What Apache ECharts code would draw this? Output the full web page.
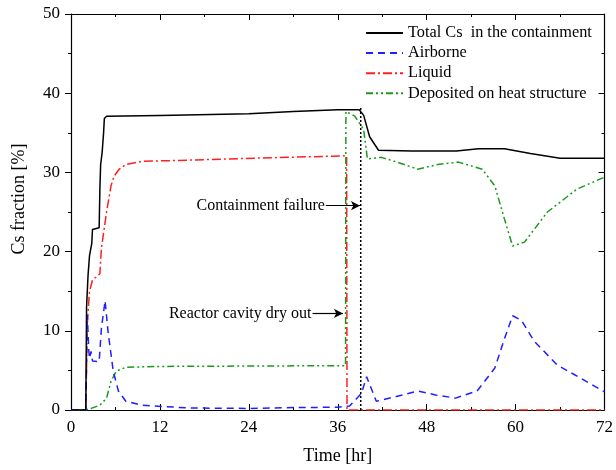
<!DOCTYPE html>
<html><head><meta charset="utf-8">
<script src="https://cdn.jsdelivr.net/npm/echarts@6/dist/echarts.min.js"></script>
<style>html,body{margin:0;padding:0;background:#fff}#c{width:616px;height:470px}</style>
</head><body><div id="c"></div>
<script>
const xTicks = [0, 12, 24, 36, 48, 60, 72];
const yTicks = [0, 10, 20, 30, 40, 50];
const seriesNames = ['Total Cs  in the containment', 'Airborne', 'Liquid', 'Deposited on heat structure'];
const totalCs = [[0,0],[2.0,0],[2.1,13],[2.3,17],[2.5,19.5],[2.8,21],[2.9,22.8],[3.8,23],[3.9,28],[4.0,31],[4.2,32.5],[4.4,35],[4.5,36.8],[4.8,37.1],[12,37.2],[24,37.4],[30,37.7],[36,37.9],[38.9,37.9],[39.5,37.2],[40.3,34.5],[41.5,32.8],[46,32.7],[52,32.7],[55,33.0],[58.5,33.0],[62,32.4],[66,31.8],[72,31.8]];
const airborne = [[0,0],[2.0,0],[2.2,12.0],[2.4,7.5],[2.5,6.5],[2.7,7.4],[2.9,6.2],[3.8,6.1],[4.1,10.3],[4.6,13.8],[5.0,9.9],[5.7,4.9],[6.4,2.4],[7.4,1.1],[9.6,0.6],[16,0.25],[24,0.2],[30,0.3],[36,0.35],[37.6,0.5],[39.2,2.1],[39.9,4.2],[41.2,1.1],[43.9,1.7],[46.8,2.4],[49.2,1.9],[51.9,1.5],[54.8,2.4],[57.2,5.3],[58.5,9.0],[59.6,11.9],[60.8,11.3],[62.5,8.7],[65.6,5.7],[68.8,4.0],[72,2.3]];
const liquid = [[0,0],[2.0,0],[2.2,10.9],[2.5,15],[2.9,16.4],[3.9,17.2],[4.1,20.4],[4.8,25],[5.4,28.3],[5.8,29.5],[6.5,30.4],[7.4,31.0],[9.6,31.4],[14,31.5],[25,31.8],[37.2,32.1],[37.25,0],[72,0]];
const deposited = [[0,0],[2.0,0],[3.0,0.3],[3.9,0.6],[4.8,1.5],[5.4,3.6],[6.1,4.9],[7.4,5.4],[11.8,5.5],[37.05,5.6],[37.1,37.7],[38.3,37.1],[39.5,35.4],[40.0,31.7],[41.9,31.9],[44,31.3],[46.8,30.4],[49.5,31.0],[52.3,31.3],[55.5,30.4],[57.2,28.3],[58.5,24.1],[59.6,20.7],[61.2,21.2],[64.3,25.0],[68.3,27.9],[72,29.4]];
const failureTime = 39.1;
const failureLine = [[failureTime,0],[failureTime,38.2]];
const failureArrow = {text:'Containment failure', y:25.8, from:34.4, to:39.0};
const dryoutArrow = {text:'Reactor cavity dry out', y:12.2, from:32.6, to:36.7};

const serif = 'Liberation Serif';
const chart = echarts.init(document.getElementById('c'));
function arrowLine(a){
  return {
    silent:true, symbol:['none','arrow'], symbolSize:[7,9],
    lineStyle:{color:'#000', type:'solid', width:1.2},
    label:{show:true, position:'start', formatter:a.text, color:'#000', fontFamily:serif, fontSize:16, distance:1},
    data:[[{coord:[a.from,a.y]},{coord:[a.to,a.y]}]]
  };
}
function axisCommon(inside){
  return {
    axisLine:{show:true, onZero:false, lineStyle:{color:'#000', width:1.2}},
    axisTick:{show:true, inside:inside, length:6, lineStyle:{color:'#000'}},
    minorTick:{show:true, splitNumber:2, length:3, lineStyle:{color:'#000'}},
    splitLine:{show:false}
  };
}
chart.setOption({
  animation:false,
  grid:{left:71, right:5, top:14, bottom:58},
  legend:{
    data:seriesNames, orient:'vertical', left:360, top:20, itemWidth:37, itemHeight:12, itemGap:4.1,
    itemStyle:{opacity:0},
    textStyle:{fontFamily:serif, fontSize:16.3, color:'#000'}
  },
  xAxis:[
    Object.assign({type:'value', min:xTicks[0], max:xTicks[xTicks.length-1], interval:12,
      name:'Time [hr]', nameLocation:'middle', nameGap:37,
      nameTextStyle:{fontFamily:serif, fontSize:18, color:'#000'},
      axisLabel:{fontFamily:serif, fontSize:17, color:'#000', margin:9}}, axisCommon(true)),
    Object.assign({type:'value', position:'top', min:0, max:72, interval:12, axisLabel:{show:false}}, axisCommon(true))
  ],
  yAxis:[
    Object.assign({type:'value', min:yTicks[0], max:yTicks[yTicks.length-1], interval:10,
      name:'Cs fraction [%]', nameLocation:'middle', nameGap:43,
      nameTextStyle:{fontFamily:serif, fontSize:18, color:'#000', padding:[0,0,0,26]},
      axisLabel:{fontFamily:serif, fontSize:17, color:'#000', margin:11}}, axisCommon(false)),
    Object.assign({type:'value', position:'right', min:0, max:50, interval:10, axisLabel:{show:false}}, axisCommon(true))
  ],
  series:[
    {name:seriesNames[0], type:'line', data:totalCs, showSymbol:false, symbol:'none', lineStyle:{color:'#000', width:1.5}, itemStyle:{color:'#000'}, z:5},
    {name:seriesNames[1], type:'line', data:airborne, showSymbol:false, symbol:'none', lineStyle:{color:'#1f1fff', width:1.5, type:[7,5]}, itemStyle:{color:'#1f1fff'}, z:4},
    {name:seriesNames[2], type:'line', data:liquid, showSymbol:false, symbol:'none', lineStyle:{color:'#ff1f1f', width:1.5, type:[9,3,2,3]}, itemStyle:{color:'#ff1f1f'}, z:3},
    {name:seriesNames[3], type:'line', data:deposited, showSymbol:false, symbol:'none', lineStyle:{color:'#1a9a1a', width:1.5, type:[7,3,2,3,2,3]}, itemStyle:{color:'#1a9a1a'}, z:3},
    {name:'failure', type:'line', data:failureLine, showSymbol:false, symbol:'none', lineStyle:{color:'#000', width:1.5, type:[2,2]}, z:6,
      markLine:arrowLine(failureArrow)},
    {name:'dryout', type:'line', data:[], markLine:arrowLine(dryoutArrow)}
  ]
});
</script></body></html>
